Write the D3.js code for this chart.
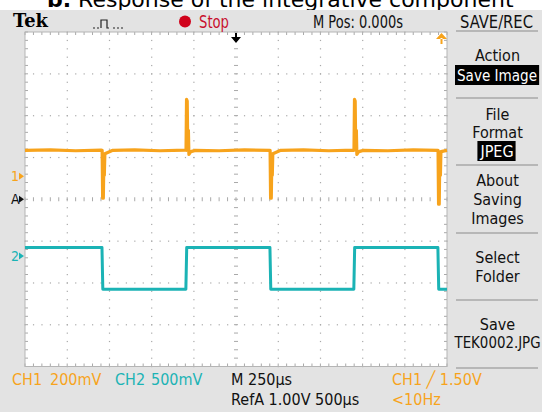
<!DOCTYPE html>
<html>
<head>
<meta charset="utf-8">
<script src="https://d3js.org/d3.v7.min.js"></script>
<style>
  body { margin: 0; background: #fff; }
  svg { display: block; }
  text { font-family: "DejaVu Sans Condensed", "DejaVu Sans", sans-serif; }
</style>
</head>
<body>
<script>
// scope settings
const ch1Scale = 200;      // mV/div
const ch2Scale = 500;      // mV/div
const timeScale = 250;     // us/div
const ch1Ground = 0.55;    // divisions above centre
const ch2Ground = -1.36;

// CH1 (orange) trace, [time us, mV]
const ch1Points = [
  [-1250, 124], [-1100, 126], [-950, 122], [-800, 125],
  [-793, 124], [-790, -105], [-786, -105], [-784, 5], [-780, 5], [-777, 108], [-760, 114], [-730, 124],
  [-600, 126], [-450, 122], [-300, 125],
  [-296, 124], [-293, 368], [-289, 360], [-287, 220], [-282, 220], [-279, 104], [-268, 118], [-240, 124],
  [-100, 122], [50, 126], [200, 124],
  [202, 124], [205, -105], [209, -105], [211, 5], [215, 5], [218, 108], [235, 114], [265, 124],
  [400, 126], [550, 122], [698, 125],
  [699, 124], [702, 368], [706, 360], [708, 220], [713, 220], [716, 104], [727, 118], [755, 124],
  [900, 122], [1050, 126], [1196, 124],
  [1197, 124], [1200, -134], [1204, -134], [1206, 5], [1211, 5], [1214, 118], [1250, 124]
];

// CH2 (cyan) square wave, [time us, mV]
const ch2Points = [
  [-1250, 102], [-794, 102], [-789, -395], [-297, -395], [-292, 102],
  [201, 102], [206, -395], [698, -395], [703, 102], [1196, 102], [1201, -395], [1250, -395]
];

const menuItems = [
  { lines: ["Action"], boxed: "Save Image", y: [61], boxY: 81 },
  { lines: ["File", "Format"], boxed: "JPEG", y: [120, 138], boxY: 157 },
  { lines: ["About", "Saving", "Images"], y: [186, 205, 224] },
  { lines: ["Select", "Folder"], y: [263, 282] },
  { lines: ["Save", "TEK0002.JPG"], y: [330, 348] }
];
const menuSeparators = [31, 98, 165, 233, 300, 368];

const orange = "#f7a31c";
const cyan = "#1bb3b5";

const W = 542, H = 412;
const pLeft = 25, pRight = 447, pTop = 32, pBottom = 366.5;

const svg = d3.select("body").append("svg").attr("width", W).attr("height", H);

// title (cut off at top)
const title = svg.append("text").attr("x", 47).attr("y", 7)
  .style("font-size", "22px").style("font-family", "DejaVu Sans, sans-serif");
title.append("tspan").style("font-weight", "bold").text("b.");
title.append("tspan").text(" Response of the integrative component");

// scope frame
svg.append("rect").attr("x", 0).attr("y", 10).attr("width", W).attr("height", H - 10).attr("fill", "#e3e3e3");
svg.append("rect").attr("x", pLeft).attr("y", pTop).attr("width", pRight - pLeft).attr("height", pBottom - pTop).attr("fill", "#fff");

const x = d3.scaleLinear().domain([-5 * timeScale, 5 * timeScale]).range([pLeft, pRight]);
const yDiv = d3.scaleLinear().domain([-4, 4]).range([pBottom, pTop]);
const y1 = d3.scaleLinear().domain([(-4 - ch1Ground) * ch1Scale, (4 - ch1Ground) * ch1Scale]).range([pBottom, pTop]);
const y2 = d3.scaleLinear().domain([(-4 - ch2Ground) * ch2Scale, (4 - ch2Ground) * ch2Scale]).range([pBottom, pTop]);

// graticule
const grid = svg.append("g");
const minorX = d3.range(-5, 5.01, 0.2);
const minorY = d3.range(-4, 4.01, 0.2);
const gridCol = "#a9a9a9";
d3.range(-4, 5).filter(d => d !== 0).forEach(k => {
  grid.selectAll(null).data(minorY).join("rect")
    .attr("x", x(k * timeScale) - 0.5).attr("y", d => yDiv(d) - 0.5)
    .attr("width", 1.2).attr("height", 1.2).attr("fill", gridCol);
});
d3.range(-3, 4).filter(d => d !== 0).forEach(k => {
  grid.selectAll(null).data(minorX).join("rect")
    .attr("x", d => x(d * timeScale) - 0.5).attr("y", yDiv(k) - 0.5)
    .attr("width", 1.2).attr("height", 1.2).attr("fill", gridCol);
});
// centre lines with ticks
grid.selectAll(null).data(minorY).join("line")
  .attr("x1", x(0) - 2).attr("x2", x(0) + 2).attr("y1", d => yDiv(d)).attr("y2", d => yDiv(d))
  .attr("stroke", gridCol);
grid.selectAll(null).data(minorX).join("line")
  .attr("y1", yDiv(0) - 2).attr("y2", yDiv(0) + 2).attr("x1", d => x(d * timeScale)).attr("x2", d => x(d * timeScale))
  .attr("stroke", gridCol);
// border ticks
[[pTop, 1], [pBottom, -1]].forEach(([yy, dir]) => {
  grid.selectAll(null).data(minorX).join("line")
    .attr("x1", d => x(d * timeScale)).attr("x2", d => x(d * timeScale))
    .attr("y1", yy).attr("y2", yy + dir * 3).attr("stroke", gridCol);
});
[[pLeft, 1], [pRight, -1]].forEach(([xx, dir]) => {
  grid.selectAll(null).data(minorY).join("line")
    .attr("y1", d => yDiv(d)).attr("y2", d => yDiv(d))
    .attr("x1", xx).attr("x2", xx + dir * 3).attr("stroke", gridCol);
});
grid.append("rect").attr("x", pLeft).attr("y", pTop).attr("width", pRight - pLeft).attr("height", pBottom - pTop)
  .attr("fill", "none").attr("stroke", "#b5b5b5");

// traces
const line1 = d3.line().x(d => x(d[0])).y(d => y1(d[1]));
const line2 = d3.line().x(d => x(d[0])).y(d => y2(d[1]));
svg.append("path").attr("d", line2(ch2Points)).attr("fill", "none")
  .attr("stroke", cyan).attr("stroke-width", 3).attr("stroke-linejoin", "round");
svg.append("path").attr("d", line1(ch1Points)).attr("fill", "none")
  .attr("stroke", orange).attr("stroke-width", 3.2).attr("stroke-linejoin", "round");

// channel markers on the left
const markers = [
  { label: "1", v: y1(0), color: orange },
  { label: "A", v: yDiv(0), color: "#111" },
  { label: "2", v: y2(0), color: cyan }
];
markers.forEach(m => {
  svg.append("text").attr("x", 11).attr("y", m.v + 5).attr("font-size", 14)
    .attr("fill", m.color).text(m.label);
  svg.append("path").attr("d", `M19,${m.v - 3.5}L24,${m.v}L19,${m.v + 3.5}Z`).attr("fill", m.color);
});

// trigger position arrow (top centre) and level arrow (top right)
svg.append("path").attr("d", `M${x(0) - 5},37L${x(0) + 5},37L${x(0)},43Z M${x(0) - 1},33h2v5h-2Z`).attr("fill", "#000");
svg.append("path").attr("d", `M436,39L447,39L441.5,33Z M440.5,38h2v6h-2Z`).attr("fill", orange);

// header
svg.append("text").attr("x", 13).attr("y", 27).attr("font-size", 18).attr("font-weight", "bold")
  .style("font-family", "DejaVu Serif, serif").attr("textLength", 35).attr("lengthAdjust", "spacingAndGlyphs").text("Tek");
svg.append("path").attr("d", "M93,28h2 M97,28h2 M101,28V20h6V28h2 M113,28h2 M117,28h2 M121,28h2")
  .attr("fill", "none").attr("stroke", "#222").attr("stroke-width", 1.2);
svg.append("circle").attr("cx", 185).attr("cy", 21.5).attr("r", 6).attr("fill", "#d0021b");
const hdr = [
  { t: "Stop", x: 199, w: 30, c: "#c8102e" },
  { t: "M Pos: 0.000s", x: 313, w: 90, c: "#111" },
  { t: "SAVE/REC", x: 460, w: 73, c: "#111" }
];
hdr.forEach(h => svg.append("text").attr("x", h.x).attr("y", 28).attr("font-size", 17)
  .attr("fill", h.c).attr("textLength", h.w).attr("lengthAdjust", "spacingAndGlyphs").text(h.t));

// side menu
const menu = svg.append("g");
menuSeparators.forEach(s => menu.append("line").attr("x1", 456).attr("x2", 538).attr("y1", s).attr("y2", s)
  .attr("stroke", "#a8a8a8").attr("stroke-width", 1.5));
menuItems.forEach(it => {
  it.lines.forEach((l, i) => {
    const t = menu.append("text").attr("x", 497.5).attr("y", it.y[i])
      .attr("text-anchor", "middle").attr("font-size", 16).attr("fill", "#111").text(l);
    if (l.length > 8) t.attr("textLength", 86).attr("lengthAdjust", "spacingAndGlyphs");
  });
  if (it.boxed) {
    const t = menu.append("text").attr("x", 497).attr("y", it.boxY).attr("text-anchor", "middle")
      .attr("font-size", 16).attr("fill", "#fff").text(it.boxed);
    if (it.boxed.length > 8) t.attr("textLength", 80).attr("lengthAdjust", "spacingAndGlyphs");
    const bb = t.node().getBBox();
    menu.insert("rect", "text").attr("x", bb.x - 2).attr("y", it.boxY - 16).attr("width", bb.width + 4)
      .attr("height", 20).attr("fill", "#000");
  }
});

// bottom readouts
const readouts = [
  { t: "CH1", x: 12, y: 385, c: orange },
  { t: "200mV", x: 50, y: 385, c: orange },
  { t: "CH2", x: 115, y: 385, c: cyan },
  { t: "500mV", x: 151, y: 385, c: cyan },
  { t: "M 250\u00b5s", x: 231, y: 385, c: "#111" },
  { t: "CH1 \u2571 1.50V", x: 392, y: 385, c: orange },
  { t: "RefA 1.00V 500\u00b5s", x: 231, y: 405, c: "#111" },
  { t: "<10Hz", x: 392, y: 405, c: orange }
];
readouts.forEach(r => svg.append("text").attr("x", r.x).attr("y", r.y).attr("font-size", 16)
  .attr("fill", r.c).text(r.t));
</script>
</body>
</html>
